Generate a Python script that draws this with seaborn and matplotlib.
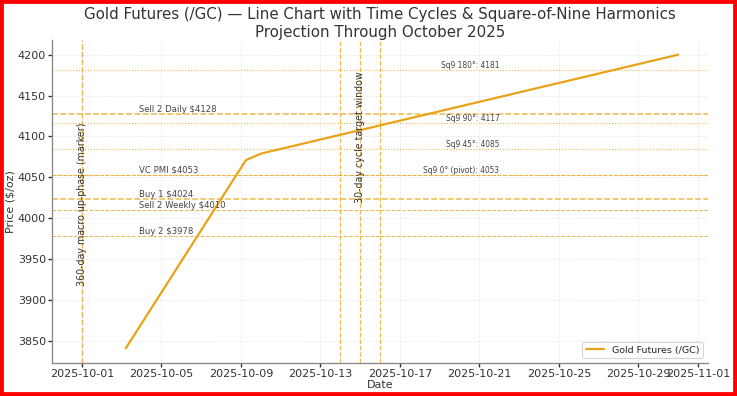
import pandas as pd
import seaborn as sns
import matplotlib.pyplot as plt
from matplotlib.patches import Rectangle

# price path (projection)
dates = ["2025-10-03 05:00", "2025-10-09 06:00", "2025-10-10 00:00", "2025-10-31 00:00"]
prices = [3841, 4071, 4079, 4200]

# pivot levels
level_names = ["Sell 2 Daily", "VC PMI", "Buy 1", "Sell 2 Weekly", "Buy 2"]
level_values = [4128, 4053, 4024, 4010, 3978]

# square-of-nine harmonics
sq9_names = ["Sq9 180°", "Sq9 90°", "Sq9 45°", "Sq9 0° (pivot)"]
sq9_values = [4181, 4117, 4085, 4053]

# time cycles
macro_date = "2025-10-01"
window_dates = ["2025-10-14", "2025-10-15", "2025-10-16"]

GOLD = "#E8A317"


def main():
    sns.set_theme(style="ticks")
    plt.rcParams['font.family'] = ['DejaVu Sans']

    df = pd.DataFrame({"Date": pd.to_datetime(dates), "Price": prices})

    fig, ax = plt.subplots(figsize=(9.2125, 4.95), dpi=80)
    fig.subplots_adjust(left=0.0706, right=0.9607, top=0.899, bottom=0.0833)

    sns.lineplot(data=df, x="Date", y="Price", ax=ax, color=GOLD, lw=2,
                 label="Gold Futures (/GC)")

    # levels
    lbl_x = pd.Timestamp("2025-10-03 21:00")
    for name, val in zip(level_names, level_values):
        lw = 1.4 if name in ("Buy 1", "Sell 2 Daily") else 0.9
        ax.axhline(val, color=GOLD, ls="--", lw=lw, alpha=0.75)
        ax.text(lbl_x, val, f"{name} ${val}", fontsize=7.6, color="#444",
                ha="left", va="bottom")

    sq9_x = pd.Timestamp("2025-10-22")
    for name, val in zip(sq9_names, sq9_values):
        ax.axhline(val, color=GOLD, ls=":", lw=1, alpha=0.75)
        ax.text(sq9_x, val, f"{name}: {val}", fontsize=6.8, color="#444",
                ha="right", va="bottom")

    # cycles
    md = pd.Timestamp(macro_date)
    ax.axvline(md, color=GOLD, ls="--", lw=1.3, alpha=0.75)
    ax.text(md, 0.49, "360-day macro up-phase (marker)", rotation=90,
            transform=ax.get_xaxis_transform(), fontsize=8.6, color="#333",
            ha="center", va="center")
    for d in window_dates:
        ax.axvline(pd.Timestamp(d), color=GOLD, ls="--", lw=1.1, alpha=0.75)
    ax.text(pd.Timestamp(window_dates[1]), 0.7, "30-day cycle target window",
            rotation=90, transform=ax.get_xaxis_transform(), fontsize=8.6,
            color="#333", ha="center", va="center")

    ax.grid(True, ls="--", lw=0.7, alpha=0.4)
    sns.despine(ax=ax)
    for s in ("left", "bottom"):
        ax.spines[s].set_color("#888")
        ax.spines[s].set_linewidth(1.2)
    ax.tick_params(colors="#333", labelsize=10, length=3.5, pad=2)

    ax.set_title("Gold Futures (/GC) — Line Chart with Time Cycles & Square-of-Nine Harmonics\n"
                 "Projection Through October 2025", fontsize=13.5, color="#333",
                 pad=3)
    ax.set_xlabel("Date", fontsize=10, color="#333", labelpad=1)
    ax.set_ylabel("Price ($/oz)", fontsize=10, color="#333", labelpad=2)
    ax.legend(loc="lower right", fontsize=8.5)

    fig.patches.append(Rectangle((0, 0), 1, 1, transform=fig.transFigure,
                                 fill=False, edgecolor="red", lw=7))
    fig.savefig("out.png", dpi=80)


if __name__ == "__main__":
    main()
